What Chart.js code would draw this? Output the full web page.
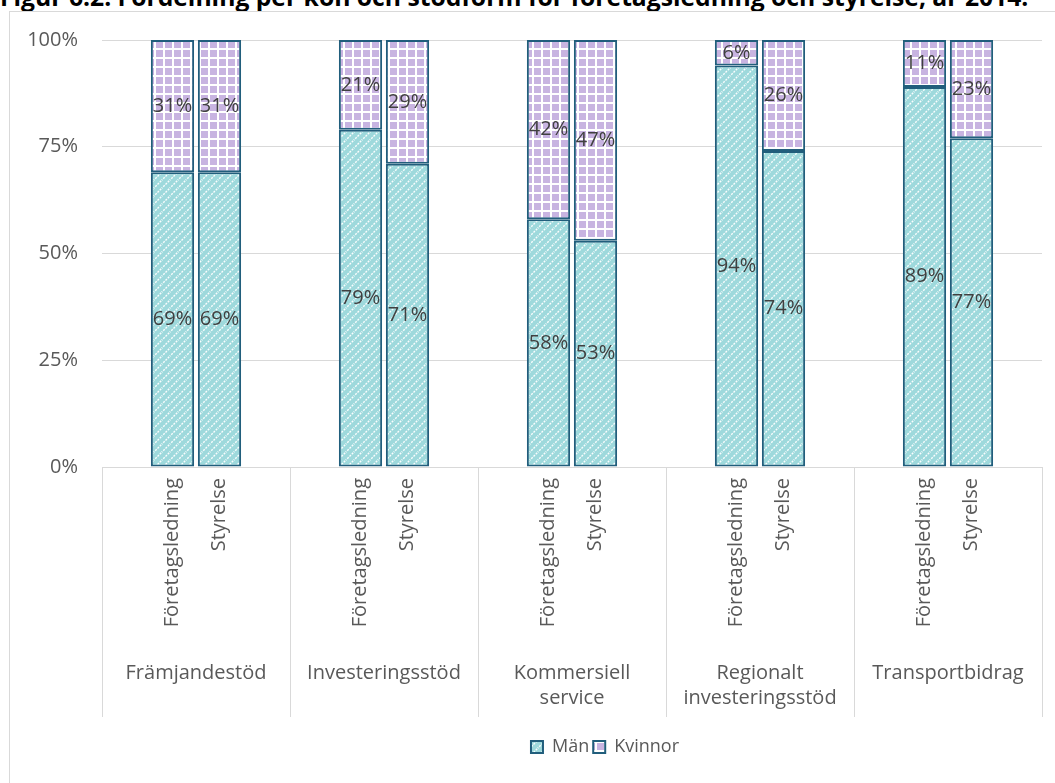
<!DOCTYPE html>
<html>
<head>
<meta charset="utf-8">
<script src="https://cdn.jsdelivr.net/npm/chart.js@4.4.0/dist/chart.umd.min.js"></script>
<style>
  html, body { margin: 0; padding: 0; background: #fff; overflow: hidden; width: 1055px; height: 783px; }
  #title { position: absolute; left: 0; top: -16px; font: bold 24.7px "Open Sans", sans-serif; line-height: 25px; color: #000; white-space: nowrap; }
  #frame { position: absolute; left: 9px; top: 11px; width: 1200px; height: 800px; border: 1px solid #d9d9d9; box-sizing: border-box; }
  #wrap { position: absolute; left: 10px; top: 12px; width: 1190px; height: 771px; }
</style>
</head>
<body>
<div id="title">Figur 6.2. Fördelning per kön och stödform för företagsledning och styrelse, år 2014.</div>
<div id="frame"></div>
<div id="wrap"><canvas id="c"></canvas></div>
<script>
const groups = ['Främjandestöd', 'Investeringsstöd', ['Kommersiell', 'service'], ['Regionalt', 'investeringsstöd'], 'Transportbidrag'];
const roles = ['Företagsledning', 'Styrelse'];
const manForetag = [69, 79, 58, 94, 89];
const kvinnorForetag = [31, 21, 42, 6, 11];
const manStyrelse = [69, 71, 53, 74, 77];
const kvinnorStyrelse = [31, 29, 47, 26, 23];
const yTicks = [0, 25, 50, 75, 100];

function stripePattern() {
  const c = document.createElement('canvas'); c.width = 8; c.height = 8;
  const g = c.getContext('2d');
  g.fillStyle = '#9ed9dc'; g.fillRect(0, 0, 8, 8);
  g.strokeStyle = 'rgba(255,255,255,0.95)'; g.lineWidth = 1.4;
  g.setLineDash([2, 1.2]);
  g.beginPath();
  g.moveTo(-1, 9); g.lineTo(9, -1);
  g.moveTo(-1, 1); g.lineTo(1, -1);
  g.moveTo(7, 9); g.lineTo(9, 7);
  g.stroke();
  return g.createPattern(c, 'repeat');
}
function gridPattern() {
  const c = document.createElement('canvas'); c.width = 9; c.height = 9;
  const g = c.getContext('2d');
  g.fillStyle = '#ffffff'; g.fillRect(0, 0, 9, 9);
  g.fillStyle = '#c8b4e1'; g.fillRect(2, 2, 7, 7);
  return g.createPattern(c, 'repeat');
}
const manFill = stripePattern();
const kvFill = gridPattern();
const border = '#215e7c';

const FONT = '"Open Sans", sans-serif';

const labelPlugin = {
  id: 'barLabels',
  afterDatasetsDraw(chart) {
    const ctx = chart.ctx;
    ctx.save();
    ctx.font = '20px ' + FONT;
    ctx.fillStyle = '#404040';
    ctx.textAlign = 'center';
    ctx.textBaseline = 'middle';
    chart.data.datasets.forEach((ds, di) => {
      const meta = chart.getDatasetMeta(di);
      meta.data.forEach((bar, i) => {
        ctx.fillText(ds.data[i] + '%', bar.x, (bar.y + bar.base) / 2);
      });
    });
    const yTop = chart.scales.x.top + 11;
    ctx.fillStyle = '#595959';
    ctx.textAlign = 'right';
    [0, 2].forEach((di, k) => {
      const meta = chart.getDatasetMeta(di);
      meta.data.forEach(bar => {
        ctx.save();
        ctx.translate(bar.x, yTop);
        ctx.rotate(-Math.PI / 2);
        ctx.fillText(roles[k], 0, 0);
        ctx.restore();
      });
    });
    ctx.restore();
  }
};

const common = { borderColor: border, borderWidth: 2, borderSkipped: false, categoryPercentage: 0.5, barPercentage: 0.92 };

new Chart(document.getElementById('c'), {
  type: 'bar',
  data: {
    labels: groups,
    datasets: [
      Object.assign({ label: 'Män', data: manForetag, backgroundColor: manFill, stack: 'F' }, common),
      Object.assign({ label: 'Kvinnor', data: kvinnorForetag, backgroundColor: kvFill, stack: 'F' }, common),
      Object.assign({ label: 'Män', data: manStyrelse, backgroundColor: manFill, stack: 'S' }, common),
      Object.assign({ label: 'Kvinnor', data: kvinnorStyrelse, backgroundColor: kvFill, stack: 'S' }, common)
    ]
  },
  options: {
    responsive: true,
    maintainAspectRatio: false,
    animation: false,
    devicePixelRatio: 1,
    layout: { padding: { top: 28, left: 0, right: 0, bottom: 17 } },
    plugins: {
      tooltip: { enabled: false },
      legend: {
        position: 'bottom',
        labels: {
          filter: (item) => item.datasetIndex < 2,
          boxWidth: 12, boxHeight: 12, padding: 4,
          color: '#595959',
          font: { family: FONT, size: 18 }
        }
      }
    },
    scales: {
      x: {
        stacked: true,
        border: { display: true, color: '#d9d9d9', width: 1 },
        grid: { display: true, offset: true, drawOnChartArea: false, drawTicks: true, tickLength: 250, color: '#d9d9d9', lineWidth: 1 },
        ticks: { color: '#595959', font: { family: FONT, size: 20, lineHeight: 1.25 }, padding: -56, maxRotation: 0, autoSkip: false },
        afterFit: (s) => { s.height = 267; }
      },
      y: {
        stacked: true,
        min: 0, max: 100,
        afterBuildTicks: (s) => { s.ticks = yTicks.map(v => ({ value: v })); },
        border: { display: false },
        grid: { color: '#d9d9d9', lineWidth: 1, drawTicks: false },
        ticks: { color: '#595959', font: { family: FONT, size: 20 }, padding: 24, callback: (v) => v + '%' },
        afterFit: (s) => { s.width = 92; s.paddingTop = 12; s.paddingBottom = 12; }
      },
      y2: {
        position: 'right',
        display: true,
        grid: { display: false },
        border: { display: false },
        ticks: { display: false },
        afterFit: (s) => { s.width = 158; }
      }
    }
  },
  plugins: [labelPlugin]
});
</script>
</body>
</html>
